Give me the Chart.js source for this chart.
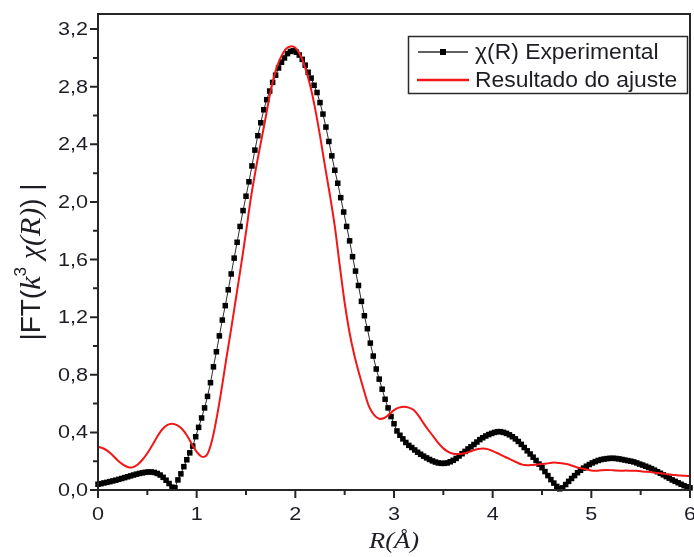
<!DOCTYPE html>
<html>
<head>
<meta charset="utf-8">
<script src="https://cdn.jsdelivr.net/npm/chart.js@4.4.1/dist/chart.umd.min.js"></script>
<style>
  html, body { margin: 0; padding: 0; background: #ffffff; }
  canvas { display: block; }
</style>
</head>
<body>
<canvas id="ftChart" width="694" height="557"></canvas>
<script>
// Experimental |FT(k^3 chi(R))|, sampled every 0.03 Å from R = 0 to 6 Å
const R_STEP_EXP = 0.03;
const expValues = [
  0.040, 0.044, 0.049, 0.053, 0.058, 0.063, 0.068, 0.074, 0.080, 0.086,
  0.092, 0.098, 0.104, 0.110, 0.115, 0.119, 0.123, 0.125, 0.125, 0.122,
  0.115, 0.104, 0.088, 0.068, 0.045, 0.020, 0.015, 0.070, 0.112, 0.162,
  0.210, 0.258, 0.305, 0.370, 0.435, 0.500, 0.570, 0.650, 0.745, 0.855,
  0.960, 1.070, 1.180, 1.280, 1.390, 1.500, 1.610, 1.720, 1.830, 1.940,
  2.040, 2.140, 2.250, 2.360, 2.460, 2.550, 2.640, 2.710, 2.770, 2.830,
  2.880, 2.930, 2.970, 3.000, 3.030, 3.045, 3.050, 3.040, 3.020, 2.990,
  2.950, 2.900, 2.860, 2.810, 2.760, 2.690, 2.610, 2.520, 2.420, 2.320,
  2.220, 2.130, 2.030, 1.930, 1.830, 1.730, 1.620, 1.520, 1.420, 1.310,
  1.210, 1.120, 1.020, 0.930, 0.840, 0.770, 0.700, 0.630, 0.570, 0.510,
  0.460, 0.410, 0.380, 0.355, 0.330, 0.310, 0.295, 0.278, 0.262, 0.248,
  0.235, 0.223, 0.212, 0.202, 0.194, 0.188, 0.185, 0.185, 0.188, 0.196,
  0.206, 0.219, 0.236, 0.252, 0.268, 0.285, 0.300, 0.316, 0.333, 0.350,
  0.363, 0.375, 0.385, 0.393, 0.400, 0.405, 0.405, 0.400, 0.393, 0.383,
  0.370, 0.355, 0.337, 0.317, 0.295, 0.272, 0.250, 0.228, 0.205, 0.180,
  0.155, 0.128, 0.100, 0.072, 0.048, 0.025, 0.008, 0.015, 0.038, 0.060,
  0.080, 0.100, 0.120, 0.137, 0.152, 0.165, 0.177, 0.188, 0.197, 0.205,
  0.211, 0.215, 0.218, 0.220, 0.220, 0.219, 0.216, 0.212, 0.208, 0.204,
  0.200, 0.195, 0.188, 0.180, 0.173, 0.165, 0.157, 0.148, 0.138, 0.127,
  0.116, 0.105, 0.093, 0.082, 0.070, 0.060, 0.050, 0.040, 0.030, 0.022,
  0.015
];

// Fitted model, sampled every 0.05 Å from R = 0 to 6 Å
const R_STEP_FIT = 0.05;
const fitValues = [
  0.300, 0.290, 0.270, 0.240, 0.205, 0.178, 0.160, 0.157, 0.175, 0.210,
  0.255, 0.310, 0.370, 0.420, 0.450, 0.460, 0.450, 0.425, 0.380, 0.320,
  0.265, 0.232, 0.240, 0.330, 0.490, 0.690, 0.910, 1.120, 1.340, 1.560,
  1.790, 2.030, 2.230, 2.410, 2.590, 2.770, 2.910, 3.000, 3.060, 3.080,
  3.070, 3.020, 2.930, 2.810, 2.650, 2.460, 2.250, 2.050, 1.830, 1.560,
  1.300, 1.090, 0.930, 0.800, 0.680, 0.575, 0.520, 0.495, 0.500, 0.525,
  0.555, 0.572, 0.578, 0.572, 0.555, 0.515, 0.463, 0.415, 0.370, 0.325,
  0.289, 0.265, 0.252, 0.250, 0.254, 0.262, 0.274, 0.284, 0.289, 0.284,
  0.270, 0.255, 0.238, 0.222, 0.206, 0.190, 0.176, 0.172, 0.174, 0.177,
  0.180, 0.184, 0.190, 0.190, 0.186, 0.180, 0.170, 0.158, 0.150, 0.143,
  0.136, 0.134, 0.137, 0.139, 0.138, 0.135, 0.134, 0.135, 0.134, 0.133,
  0.130, 0.127, 0.125, 0.120, 0.116, 0.112, 0.107, 0.104, 0.101, 0.099,
  0.097
];

const seriesNames = ['\u03C7(R) Experimental', 'Resultado do ajuste'];

const xMajorTicks = [0, 1, 2, 3, 4, 5, 6];
const xMinorTicks = [0.5, 1.5, 2.5, 3.5, 4.5, 5.5];
const yMajorTicks = [0, 0.4, 0.8, 1.2, 1.6, 2.0, 2.4, 2.8, 3.2];
const yTickLabels = ['0,0', '0,4', '0,8', '1,2', '1,6', '2,0', '2,4', '2,8', '3,2'];
const yMinorTicks = [0.2, 0.6, 1.0, 1.4, 1.8, 2.2, 2.6, 3.0];

const X_MIN = 0, X_MAX = 6, Y_MIN = 0, Y_MAX = 3.305;

const expPoints = expValues.map((v, i) => ({ x: +(i * R_STEP_EXP).toFixed(2), y: v }));
const fitPoints = fitValues.map((v, i) => ({ x: +(i * R_STEP_FIT).toFixed(2), y: v }));

const SANS = '"Liberation Sans", Arial, sans-serif';
const SERIF = '"Liberation Serif", "Times New Roman", serif';
const INK = '#1d1d24';

// Text drawn with a horizontal stretch factor
function drawText(ctx, text, x, y, font, align, baseline, sx) {
  ctx.save();
  ctx.translate(x, y);
  ctx.scale(sx, 1);
  ctx.font = font;
  ctx.textAlign = align;
  ctx.textBaseline = baseline;
  ctx.fillText(text, 0, 0);
  ctx.restore();
}

// Frame, tick marks, tick labels, axis titles and the boxed legend
const framePlugin = {
  id: 'frameAndLabels',
  afterDraw(chart) {
    const { ctx, chartArea: a, scales: { x, y } } = chart;
    ctx.save();

    // tick marks (outward)
    ctx.strokeStyle = '#262626';
    ctx.lineWidth = 2;
    ctx.beginPath();
    xMajorTicks.forEach(v => { const p = x.getPixelForValue(v); ctx.moveTo(p, a.bottom); ctx.lineTo(p, a.bottom + 8); });
    xMinorTicks.forEach(v => { const p = x.getPixelForValue(v); ctx.moveTo(p, a.bottom); ctx.lineTo(p, a.bottom + 5); });
    yMajorTicks.forEach(v => { const p = y.getPixelForValue(v); ctx.moveTo(a.left, p); ctx.lineTo(a.left - 8, p); });
    yMinorTicks.forEach(v => { const p = y.getPixelForValue(v); ctx.moveTo(a.left, p); ctx.lineTo(a.left - 5, p); });
    ctx.stroke();

    // plot frame
    ctx.strokeRect(a.left, a.top, a.right - a.left, a.bottom - a.top);

    // tick labels
    ctx.fillStyle = INK;
    const tickFont = '18px ' + SANS;
    xMajorTicks.forEach(v => {
      drawText(ctx, String(v), x.getPixelForValue(v), a.bottom + 25, tickFont, 'center', 'middle', 1.2);
    });
    yMajorTicks.forEach((v, i) => {
      drawText(ctx, yTickLabels[i], a.left - 10, y.getPixelForValue(v) + 1, tickFont, 'right', 'middle', 1.2);
    });

    // x axis title
    drawText(ctx, 'R(\u00C5)', (a.left + a.right) / 2, 548, 'italic 23px ' + SERIF, 'center', 'alphabetic', 1.15);

    // y axis title, built from runs of mixed fonts
    const runs = [
      { t: '|FT(', f: '28px ' + SANS, dy: 0 },
      { t: 'k', f: 'italic 30px ' + SERIF, dy: 0 },
      { t: '3', f: '17px ' + SANS, dy: -14 },
      { t: ' ', f: '28px ' + SANS, dy: 0 },
      { t: '\u03C7(R)', f: 'italic 30px ' + SERIF, dy: 0 },
      { t: ')', f: '28px ' + SANS, dy: 0 },
      { t: ' |', f: '28px ' + SANS, dy: 0 }
    ];
    let total = 0;
    runs.forEach(r => { ctx.font = r.f; r.w = ctx.measureText(r.t).width; total += r.w; });
    ctx.save();
    ctx.translate(40, 262);
    ctx.rotate(-Math.PI / 2);
    ctx.textAlign = 'left';
    ctx.textBaseline = 'alphabetic';
    let cx = -total / 2;
    runs.forEach(r => { ctx.font = r.f; ctx.fillText(r.t, cx, r.dy); cx += r.w; });
    ctx.restore();

    // legend
    const lx = 408.5, ly = 36.5, lw = 279, lh = 57;
    ctx.fillStyle = '#ffffff';
    ctx.fillRect(lx, ly, lw, lh);
    ctx.strokeStyle = '#2a2a2a';
    ctx.lineWidth = 1.5;
    ctx.strokeRect(lx, ly, lw, lh);

    const ds0 = chart.data.datasets[1];
    const ds1 = chart.data.datasets[0];
    ctx.strokeStyle = ds0.borderColor;
    ctx.lineWidth = 1.5;
    ctx.beginPath(); ctx.moveTo(418, 52); ctx.lineTo(468, 52); ctx.stroke();
    ctx.fillStyle = '#000000';
    ctx.fillRect(440, 49, 6, 6);
    ctx.strokeStyle = ds1.borderColor;
    ctx.lineWidth = 2.5;
    ctx.beginPath(); ctx.moveTo(417, 80); ctx.lineTo(469, 80); ctx.stroke();

    ctx.fillStyle = INK;
    drawText(ctx, seriesNames[0], 475, 53, '22px ' + SANS, 'left', 'middle', 1.04);
    drawText(ctx, seriesNames[1], 475, 81, '22px ' + SANS, 'left', 'middle', 1.04);

    ctx.restore();
  }
};

new Chart(document.getElementById('ftChart'), {
  type: 'line',
  data: {
    datasets: [
      {
        label: seriesNames[1],
        data: fitPoints,
        borderColor: '#f21616',
        borderWidth: 2,
        pointRadius: 0,
        tension: 0.35,
        fill: false,
        order: 0,
        clip: 6
      },
      {
        label: seriesNames[0],
        data: expPoints,
        borderColor: '#2b2b2b',
        borderWidth: 1,
        pointStyle: 'rect',
        pointRadius: 3.9,
        pointBackgroundColor: '#000000',
        pointBorderWidth: 0,
        tension: 0,
        fill: false,
        order: 1,
        clip: 6
      }
    ]
  },
  options: {
    responsive: false,
    animation: false,
    layout: { padding: { left: 98, top: 14, right: 4, bottom: 67 } },
    plugins: { legend: { display: false }, tooltip: { enabled: false } },
    scales: {
      x: { type: 'linear', min: X_MIN, max: X_MAX, display: false },
      y: { type: 'linear', min: Y_MIN, max: Y_MAX, display: false }
    }
  },
  plugins: [framePlugin]
});
</script>
</body>
</html>
